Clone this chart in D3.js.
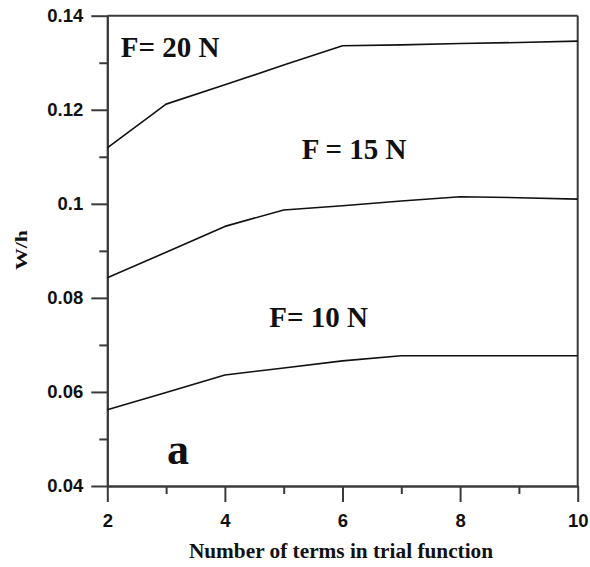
<!DOCTYPE html>
<html>
<head>
<meta charset="utf-8">
<script src="https://cdn.jsdelivr.net/npm/d3@7"></script>
<style>
  html, body { margin: 0; padding: 0; background: #fff; }
  svg { display: block; }
</style>
</head>
<body>
<svg id="chart" width="590" height="567"></svg>
<script>
const terms = [2, 3, 4, 5, 6, 7, 8, 9, 10];
const f20 = [0.1119, 0.1212, 0.1253, 0.1295, 0.1336, 0.1338, 0.1341, 0.1343, 0.1346];
const f15 = [0.0843, 0.0897, 0.0952, 0.0987, 0.0996, 0.1006, 0.1015, 0.1013, 0.1010];
const f10 = [0.0562, 0.0599, 0.0636, 0.0651, 0.0666, 0.0677, 0.0677, 0.0677, 0.0677];
const yMajorTicks = [0.04, 0.06, 0.08, 0.1, 0.12, 0.14];
const yTickLabels = ["0.04", "0.06", "0.08", "0.1", "0.12", "0.14"];
const yMinorTicks = [0.05, 0.07, 0.09, 0.11, 0.13];
const xMajorTicks = [2, 4, 6, 8, 10];
const xMinorTicks = [3, 5, 7, 9];
const seriesLabels = ["F= 20 N", "F = 15 N", "F= 10 N"];
const xTitle = "Number of terms in trial function";
const yTitle = "W/h";
const panelLabel = "a";

(function () {
const svg = d3.select("#chart");
const mLeft = 107.3, mRight = 577.7, mTop = 15.7, mBottom = 486;
const x = d3.scaleLinear().domain([2, 10]).range([mLeft, mRight]);
const y = d3.scaleLinear().domain([0.04, 0.14]).range([mBottom, mTop]);

const axisColor = "#3a3a3a";
const sans = "'Liberation Sans', Arial, sans-serif";
const serif = "'Liberation Serif', 'Times New Roman', serif";

// frame (top and right)
svg.append("line").attr("x1", mLeft).attr("x2", mRight).attr("y1", mTop).attr("y2", mTop)
  .attr("stroke", axisColor).attr("stroke-width", 2);
svg.append("line").attr("x1", mRight).attr("x2", mRight).attr("y1", mTop).attr("y2", mBottom)
  .attr("stroke", axisColor).attr("stroke-width", 2);

function styleAxis(g) {
  g.select(".domain").attr("stroke", axisColor).attr("stroke-width", 2);
  g.selectAll(".tick line").attr("stroke", axisColor).attr("stroke-width", 2);
  g.selectAll("text").attr("fill", "#111").attr("font-family", sans)
    .attr("font-weight", "bold").attr("font-size", 18.5);
}

// y axis
const yMajor = svg.append("g").attr("transform", `translate(${mLeft},0)`)
  .call(d3.axisLeft(y).tickValues(yMajorTicks).tickSize(16).tickSizeOuter(0).tickPadding(8)
    .tickFormat((d, i) => yTickLabels[i]));
styleAxis(yMajor);
const yMinor = svg.append("g").attr("transform", `translate(${mLeft},0)`)
  .call(d3.axisLeft(y).tickValues(yMinorTicks).tickSize(8).tickSizeOuter(0).tickFormat(""));
styleAxis(yMinor);

// x axis
const xMajor = svg.append("g").attr("transform", `translate(0,${mBottom})`)
  .call(d3.axisBottom(x).tickValues(xMajorTicks).tickSize(16).tickSizeOuter(0).tickPadding(12)
    .tickFormat(d3.format("d")));
styleAxis(xMajor);
const xMinor = svg.append("g").attr("transform", `translate(0,${mBottom})`)
  .call(d3.axisBottom(x).tickValues(xMinorTicks).tickSize(8).tickSizeOuter(0).tickFormat(""));
styleAxis(xMinor);

// lines
const line = d3.line().x((d, i) => x(terms[i])).y(d => y(d));
[f20, f15, f10].forEach(s => {
  svg.append("path").datum(s).attr("d", line)
    .attr("fill", "none").attr("stroke", "#111").attr("stroke-width", 1.6)
    .attr("stroke-linejoin", "round");
});

// series labels
const labelPos = [[120.7, 56.5], [301.7, 159], [269.3, 326.5]];
seriesLabels.forEach((t, i) => {
  svg.append("text").attr("x", labelPos[i][0]).attr("y", labelPos[i][1])
    .attr("font-family", serif).attr("font-weight", "bold").attr("font-size", 29)
    .attr("fill", "#111").text(t);
});

// panel label
svg.append("text").attr("x", 167).attr("y", 464)
  .attr("font-family", serif).attr("font-weight", "bold").attr("font-size", 44)
  .attr("fill", "#111").text(panelLabel);

// axis titles
svg.append("text").attr("x", 341).attr("y", 558)
  .attr("text-anchor", "middle")
  .attr("font-family", serif).attr("font-weight", "bold").attr("font-size", 21.3)
  .attr("fill", "#111").text(xTitle);

svg.append("text").attr("transform", "translate(27,250) rotate(-90)")
  .attr("text-anchor", "middle")
  .attr("font-family", serif).attr("font-weight", "bold").attr("font-size", 16)
  .attr("textLength", 40).attr("lengthAdjust", "spacingAndGlyphs")
  .attr("fill", "#111").text(yTitle);
})();
</script>
</body>
</html>
